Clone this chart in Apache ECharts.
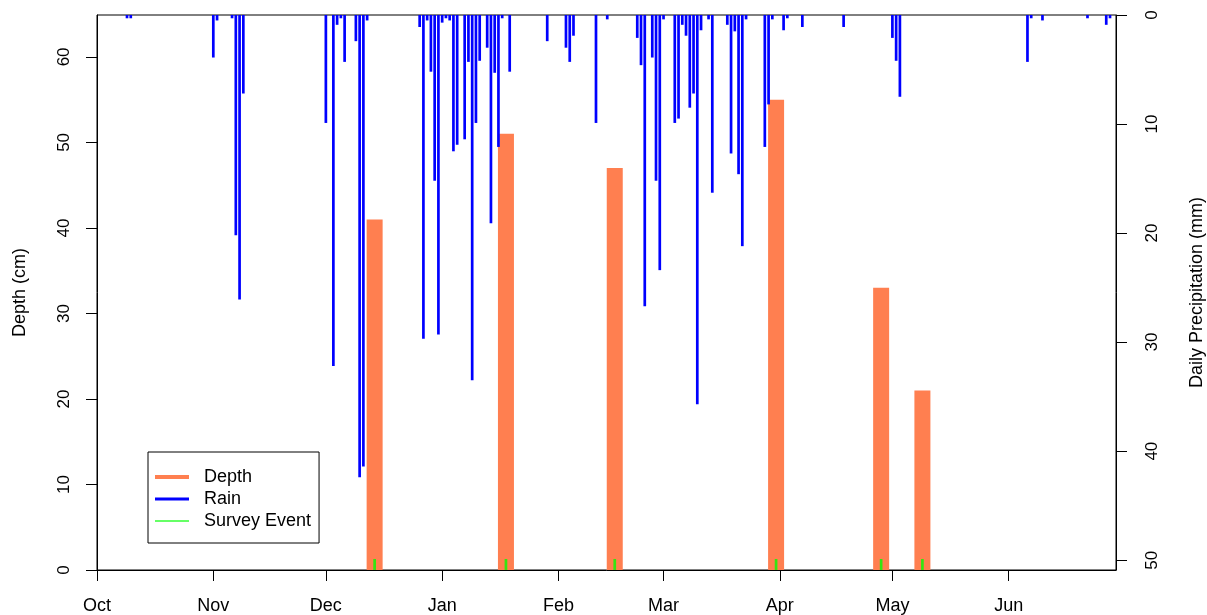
<!DOCTYPE html>
<html>
<head>
<meta charset="utf-8">
<script src="https://cdn.jsdelivr.net/npm/echarts@6/dist/echarts.min.js"></script>
<style>
  html, body { margin: 0; padding: 0; background: #fff; }
  #chart { width: 1207px; height: 615px; }
</style>
</head>
<body>
<div id="chart"></div>
<script>
// season runs Oct 1 -> end of June
const seasonStart = '2016-10-01';
const seasonEnd = 271.6; // days after seasonStart at the right edge of the box

const monthStarts = ['2016-10-01', '2016-11-01', '2016-12-01', '2017-01-01', '2017-02-01',
  '2017-03-01', '2017-04-01', '2017-05-01', '2017-06-01'];
const monthLabels = ['Oct', 'Nov', 'Dec', 'Jan', 'Feb', 'Mar', 'Apr', 'May', 'Jun'];

const depthTicks = [0, 10, 20, 30, 40, 50, 60];
const rainTicks = [0, 10, 20, 30, 40, 50];

// survey events and measured depth (cm)
const surveyDates = ['2016-12-14', '2017-01-18', '2017-02-16', '2017-03-31', '2017-04-28', '2017-05-09'];
const depthValues = [41, 51, 47, 55, 33, 21];

// daily precipitation (mm)
const rainDates = [
  '2016-10-09', '2016-10-10',
  '2016-11-01', '2016-11-02', '2016-11-06', '2016-11-07', '2016-11-08', '2016-11-09',
  '2016-12-01', '2016-12-03', '2016-12-04', '2016-12-05', '2016-12-06', '2016-12-09',
  '2016-12-10', '2016-12-11', '2016-12-12', '2016-12-26', '2016-12-27', '2016-12-28',
  '2016-12-29', '2016-12-30', '2016-12-31',
  '2017-01-01', '2017-01-02', '2017-01-03', '2017-01-04', '2017-01-05', '2017-01-07',
  '2017-01-08', '2017-01-09', '2017-01-10', '2017-01-11', '2017-01-13', '2017-01-14',
  '2017-01-15', '2017-01-16', '2017-01-17', '2017-01-19', '2017-01-29',
  '2017-02-03', '2017-02-04', '2017-02-05', '2017-02-11', '2017-02-14', '2017-02-22',
  '2017-02-23', '2017-02-24', '2017-02-26', '2017-02-27', '2017-02-28',
  '2017-03-01', '2017-03-04', '2017-03-05', '2017-03-06', '2017-03-07', '2017-03-08',
  '2017-03-09', '2017-03-10', '2017-03-11', '2017-03-13', '2017-03-14', '2017-03-18',
  '2017-03-19', '2017-03-20', '2017-03-21', '2017-03-22', '2017-03-23', '2017-03-28',
  '2017-03-29', '2017-03-30',
  '2017-04-02', '2017-04-03', '2017-04-07', '2017-04-18',
  '2017-05-01', '2017-05-02', '2017-05-03',
  '2017-06-06', '2017-06-07', '2017-06-10', '2017-06-22', '2017-06-27', '2017-06-28'
];
const rainValues = [
  0.3, 0.3,
  3.9, 0.5, 0.3, 20.2, 26.1, 7.2,
  9.9, 32.2, 0.9, 0.3, 4.3, 2.4,
  42.4, 41.4, 0.5, 1.1, 29.7, 0.5,
  5.2, 15.2, 29.3,
  0.7, 0.3, 0.5, 12.5, 11.9, 11.4,
  4.3, 33.5, 9.9, 4.2, 3.0, 19.1,
  5.3, 12.1, 0.3, 5.2, 2.4,
  3.0, 4.3, 1.9, 9.9, 0.4, 2.1,
  4.6, 26.7, 3.9, 15.2, 23.4,
  0.4, 9.9, 9.5, 0.9, 1.9, 8.5,
  7.2, 35.7, 1.4, 0.4, 16.3, 0.9,
  12.7, 1.5, 14.6, 21.2, 0.4, 12.1,
  8.2, 0.4,
  1.4, 0.3, 1.1, 1.1,
  2.1, 4.2, 7.5,
  4.3, 0.3, 0.5, 0.3, 0.9, 0.3
];

const dayOf = (s) => (Date.parse(s) - Date.parse(seasonStart)) / 86400000;
const monthDays = monthStarts.map(dayOf);

const font = 'Liberation Sans, Arial, sans-serif';
const black = '#000';

const chart = echarts.init(document.getElementById('chart'));

// legend icons: line samples of different thickness inside a 34x12 box
const lineIcon = (w) => 'path://M0,0M34,12M0,' + (6 - w / 2) + 'H34V' + (6 + w / 2) + 'H0Z';

const valueAxisBase = {
  type: 'value',
  axisLine: { show: true, onZero: false, lineStyle: { color: black, width: 1 } },
  splitLine: { show: false },
  nameLocation: 'middle',
  nameTextStyle: { fontFamily: font, fontSize: 18, color: black }
};

chart.setOption({
  animation: false,
  backgroundColor: '#fff',
  grid: {
    left: 97, right: 91, top: 15, bottom: 45,
    show: true, borderColor: black, borderWidth: 1,
    outerBoundsMode: 'none'
  },
  legend: {
    orient: 'vertical',
    left: 148,
    top: 452,
    backgroundColor: '#fff',
    borderColor: black,
    borderWidth: 1,
    borderRadius: 0,
    padding: [15, 8, 12, 7],
    itemWidth: 34,
    itemHeight: 12,
    itemGap: 2,
    selectedMode: false,
    textStyle: { fontFamily: font, fontSize: 18, color: black, lineHeight: 20, padding: [0, 0, 0, 10] },
    data: [
      { name: 'Depth', icon: lineIcon(4) },
      { name: 'Rain', icon: lineIcon(3) },
      { name: 'Survey Event', icon: lineIcon(1.5) }
    ]
  },
  xAxis: [
    {
      type: 'value',
      min: 0,
      max: seasonEnd,
      axisLine: { show: true, onZero: false, lineStyle: { color: black } },
      axisTick: { show: true, length: 11, customValues: monthDays, lineStyle: { color: black } },
      axisLabel: {
        customValues: monthDays,
        margin: 27,
        fontFamily: font,
        fontSize: 18,
        color: black,
        formatter: (v) => monthLabels[monthDays.indexOf(v)]
      },
      splitLine: { show: false }
    },
    { type: 'value', min: 0, max: seasonEnd, show: false }
  ],
  yAxis: [
    Object.assign({}, valueAxisBase, {
      name: 'Depth (cm)',
      nameGap: 68,
      min: 0,
      max: 64.9,
      position: 'left',
      axisTick: { show: true, length: 11, customValues: depthTicks, lineStyle: { color: black } },
      axisLabel: { customValues: depthTicks, rotate: 90, margin: 24, fontFamily: font, fontSize: 17, color: black }
    }),
    Object.assign({}, valueAxisBase, {
      name: 'Daily Precipitation (mm)',
      nameGap: 72,
      min: 0,
      max: 50.9,
      inverse: true,
      position: 'right',
      axisTick: { show: true, length: 11, customValues: rainTicks, lineStyle: { color: black } },
      axisLabel: { customValues: rainTicks, rotate: 90, margin: 28, fontFamily: font, fontSize: 17, color: black }
    })
  ],
  series: [
    {
      name: 'Depth',
      type: 'bar',
      xAxisIndex: 0,
      yAxisIndex: 0,
      barWidth: 16,
      itemStyle: { color: '#FF7F50' },
      z: 2,
      data: surveyDates.map((d, i) => [dayOf(d), depthValues[i]])
    },
    {
      name: 'Rain',
      type: 'bar',
      xAxisIndex: 1,
      yAxisIndex: 1,
      barWidth: 2.7,
      itemStyle: { color: '#0000FF' },
      z: 3,
      data: rainDates.map((d, i) => [dayOf(d), rainValues[i]])
    },
    {
      name: 'Survey Event',
      type: 'scatter',
      xAxisIndex: 0,
      yAxisIndex: 0,
      symbol: 'rect',
      symbolSize: [2.7, 11],
      symbolOffset: [0, '-50%'],
      itemStyle: { color: '#00FF00' },
      z: 4,
      data: surveyDates.map((d) => [dayOf(d), 0])
    }
  ]
});
</script>
</body>
</html>
